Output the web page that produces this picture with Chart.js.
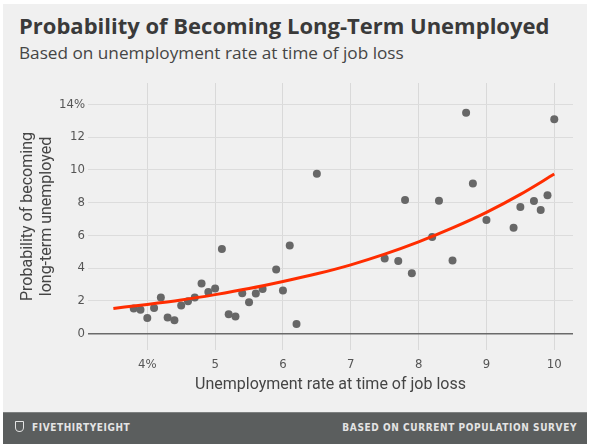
<!DOCTYPE html>
<html><head><meta charset="utf-8">
<script src="https://cdn.jsdelivr.net/npm/chart.js@4/dist/chart.umd.min.js"></script>
<style>
html,body{margin:0;padding:0;background:#fff;width:592px;height:444px;overflow:hidden;}
#panel{position:absolute;left:3px;top:4px;width:584px;height:440px;background:#f0f0f0;}
#title{position:absolute;left:19px;top:10px;font:bold 22px "Open Sans",Roboto,sans-serif;color:#3a3a3a;white-space:nowrap;}
#sub{position:absolute;left:19px;top:41px;font:17.2px "Open Sans",Roboto,sans-serif;color:#454545;white-space:nowrap;}
#footer{position:absolute;left:3px;top:412px;width:584px;height:32px;background:#5b5e5e;border-top:1px solid #7d8080;box-sizing:border-box;}
#fl{position:absolute;left:29px;top:9px;font:bold 10px "DejaVu Sans Condensed","Roboto",sans-serif;color:#e4e4e4;letter-spacing:0.6px;}
#fr{position:absolute;right:10px;top:9px;font:bold 10px "DejaVu Sans Condensed","Roboto",sans-serif;color:#e4e4e4;letter-spacing:0.6px;}
#logo{position:absolute;left:12px;top:8px;width:9px;height:11px;border:1.5px solid #e4e4e4;border-radius:1px 1px 5px 5px;box-sizing:border-box;}
#wrap{position:absolute;left:0;top:0;width:592px;height:444px;}
</style></head>
<body>
<div id="panel"></div>
<div id="title">Probability of Becoming Long-Term Unemployed</div>
<div id="sub">Based on unemployment rate at time of job loss</div>
<div id="wrap"><canvas id="c" width="592" height="444"></canvas></div>
<div id="footer"><div id="logo"></div><div id="fl">FIVETHIRTYEIGHT</div><div id="fr">BASED ON CURRENT POPULATION SURVEY</div></div>
<script>
const unemploymentRate = [3.8,3.9,4.0,4.1,4.2,4.3,4.4,4.5,4.6,4.7,4.8,4.9,5.0,5.1,5.2,5.3,5.4,5.5,5.6,5.7,5.9,6.0,6.1,6.2,6.5,7.5,7.7,7.8,7.9,8.2,8.3,8.5,8.7,8.8,9.0,9.4,9.5,9.7,9.8,9.9,10.0];
const longTermProb = [1.54,1.46,0.95,1.56,2.21,0.99,0.81,1.72,1.97,2.21,3.06,2.54,2.76,5.17,1.18,1.05,2.47,1.91,2.45,2.72,3.91,2.64,5.38,0.59,9.76,4.58,4.44,8.15,3.69,5.90,8.11,4.46,13.49,9.17,6.94,6.47,7.73,8.09,7.55,8.44,13.08];
const fitX = [3.5,4.0,4.5,5.0,5.5,6.0,6.5,7.0,7.5,8.0,8.5,9.0,9.5,10.0];
const fitY = [1.54,1.78,2.05,2.38,2.75,3.18,3.65,4.20,4.85,5.60,6.45,7.40,8.50,9.74];
const xTicks = [4,5,6,7,8,9,10];
const yTicks = [0,2,4,6,8,10,12,14];

const tickFont = {family:'"DejaVu Sans Condensed", Roboto, sans-serif', size:13};
const titleFont = {family:'Roboto, "Noto Sans", sans-serif', size:16};

new Chart(document.getElementById('c'), {
  data: {
    datasets: [
      {type:'line', data: fitX.map((x,i)=>({x:x,y:fitY[i]})), borderColor:'#ff2d00', borderWidth:3, pointRadius:0, cubicInterpolationMode:'monotone', fill:false, order:0},
      {type:'scatter', data: unemploymentRate.map((x,i)=>({x:x,y:longTermProb[i]})), backgroundColor:'#676767', borderWidth:0, pointRadius:4, order:1}
    ]
  },
  options: {
    responsive:false, animation:false,
    layout:{padding:{left:0,right:19,top:83,bottom:49}},
    plugins:{legend:{display:false}, tooltip:{enabled:false}},
    scales:{
      x:{type:'linear', min:3.126, max:10.276,
        afterBuildTicks: s => { s.ticks = xTicks.map(v=>({value:v})); },
        afterFit: s => { s.height = 45; },
        grid:{color:'#d9d9d9', drawTicks:false, lineWidth:1},
        border:{display:false},
        ticks:{padding:7, color:'#555', font:tickFont, callback: v => v===4 ? '4%' : String(v)},
        title:{display:true, text:'Unemployment rate at time of job loss', color:'#454545', font:titleFont, padding:{top:0,bottom:0}}
      },
      y:{type:'linear', min:-1, max:15.3,
        afterBuildTicks: s => { s.ticks = yTicks.map(v=>({value:v})); },
        afterFit: s => { s.width = 88; },
        grid:{color: c => c.tick && c.tick.value===0 ? '#6a6a6a' : '#dcdcdc', lineWidth: c => c.tick && c.tick.value===0 ? 1.5 : 1, drawTicks:false},
        border:{display:false},
        ticks:{padding:3, color:'#555', font:tickFont, callback: v => v===14 ? '14%' : String(v)},
        title:{display:true, text:['Probability of becoming','long-term unemployed'], color:'#454545', font:titleFont, padding:{top:18,bottom:0}}
      }
    }
  }
});
</script>
</body></html>
